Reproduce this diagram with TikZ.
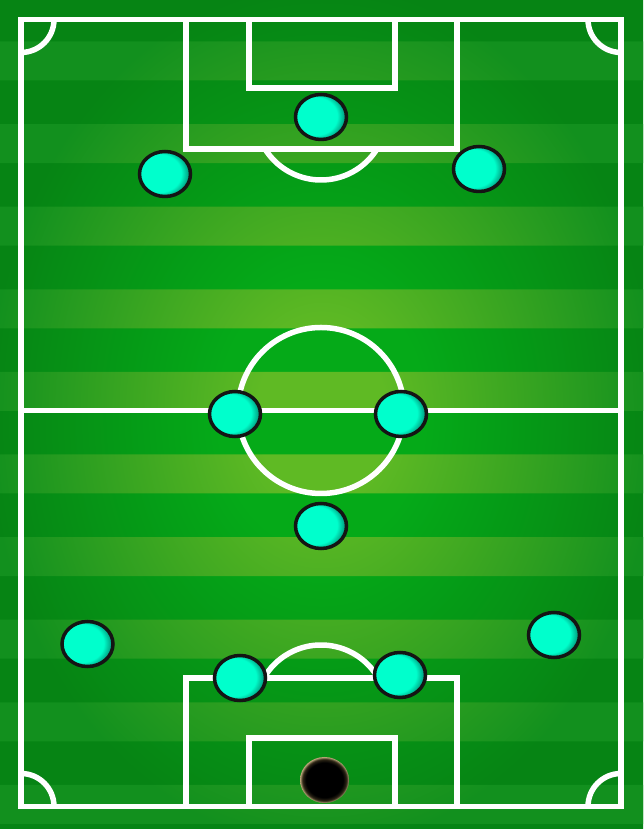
\documentclass[tikz,border=0pt]{standalone}
\usetikzlibrary{shapes.geometric}
\definecolor{fieldDC}{RGB}{5,170,24}
\definecolor{fieldDE}{RGB}{6,132,20}
\definecolor{fieldLC}{RGB}{95,186,36}
\definecolor{fieldLE}{RGB}{18,144,30}
\definecolor{pcyan}{RGB}{0,255,204}
\definecolor{pdark}{RGB}{0,55,44}
\definecolor{balltan}{RGB}{185,165,120}
\definecolor{ballmid}{RGB}{45,38,22}
\pgfdeclareradialshading{darkfield}{\pgfpoint{0bp}{0bp}}{color(0bp)=(fieldDC); color(8bp)=(fieldDC); color(26bp)=(fieldDE); color(50bp)=(fieldDE)}
\pgfdeclareradialshading{lightfield}{\pgfpoint{0bp}{0bp}}{color(0bp)=(fieldLC); color(5bp)=(fieldLC); color(26bp)=(fieldLE); color(50bp)=(fieldLE)}
\pgfdeclareradialshading{playershade}{\pgfpoint{-9bp}{1.5bp}}{color(0bp)=(pcyan); color(21bp)=(pcyan); color(27bp)=(pcyan!55!pdark); color(32bp)=(pdark); color(50bp)=(pdark)}
\pgfdeclareradialshading{ballshade}{\pgfpoint{0bp}{0bp}}{color(0bp)=(black); color(19bp)=(black); color(22.5bp)=(ballmid); color(25bp)=(balltan); color(50bp)=(balltan)}
\begin{document}
\begin{tikzpicture}[x=1pt,y=1pt,
  fieldline/.style={draw=white,line width=5.5pt},
  player/.style={ellipse,draw=black!92,line width=3.5pt,minimum width=51pt,minimum height=45pt,inner sep=0pt,shading=playershade},
  ballnode/.style={ellipse,minimum width=49pt,minimum height=46pt,inner sep=0pt,shading=ballshade}]
\useasboundingbox (0,0) rectangle (643,829);
% grass
\shade[shading=darkfield] (0,0) rectangle (643,829);
\begin{scope}
  \path[clip] foreach \k in {0,...,9} {(-1,{787.5-82.6*\k}) rectangle (644,{748.5-82.6*\k})};
  \shade[shading=lightfield] (0,0) rectangle (643,829);
\end{scope}
% outer lines
\draw[fieldline] (21,22.5) rectangle (621,809.5);
\draw[fieldline] (21,418.5) -- (621,418.5);
\draw[fieldline] (321,418.5) circle[radius=83];
% corner arcs
\draw[fieldline] (54,809.5) arc[start angle=0,end angle=-90,radius=33];
\draw[fieldline] (588,809.5) arc[start angle=180,end angle=270,radius=33];
\draw[fieldline] (54,22.5) arc[start angle=0,end angle=90,radius=33];
\draw[fieldline] (588,22.5) arc[start angle=180,end angle=90,radius=33];
% top boxes
\draw[fieldline] (186,809.5) -- (186,680) -- (457,680) -- (457,809.5);
\draw[fieldline] (249,809.5) -- (249,741) -- (395,741) -- (395,809.5);
\draw[fieldline] ([shift={(212:66)}]321,715) arc[start angle=212,end angle=328,radius=66];
% bottom boxes
\draw[fieldline] (186,22.5) -- (186,151) -- (457,151) -- (457,22.5);
\draw[fieldline] (249,22.5) -- (249,91) -- (395,91) -- (395,22.5);
\draw[fieldline] ([shift={(30:66)}]321,118) arc[start angle=30,end angle=150,radius=66];
% players
\node[player] (p1) at (321,712) {};
\node[player] (p2) at (165,655) {};
\node[player] (p3) at (479,660) {};
\node[player] (p4) at (235,415) {};
\node[player] (p5) at (401,415) {};
\node[player] (p6) at (321,303) {};
\node[player] (p7) at (87.5,185) {};
\node[player] (p8) at (554,194) {};
\node[player] (p9) at (240,151) {};
\node[player] (p10) at (400,154) {};
\node[ballnode] (ball) at (324.5,49) {};
\end{tikzpicture}
\end{document}
